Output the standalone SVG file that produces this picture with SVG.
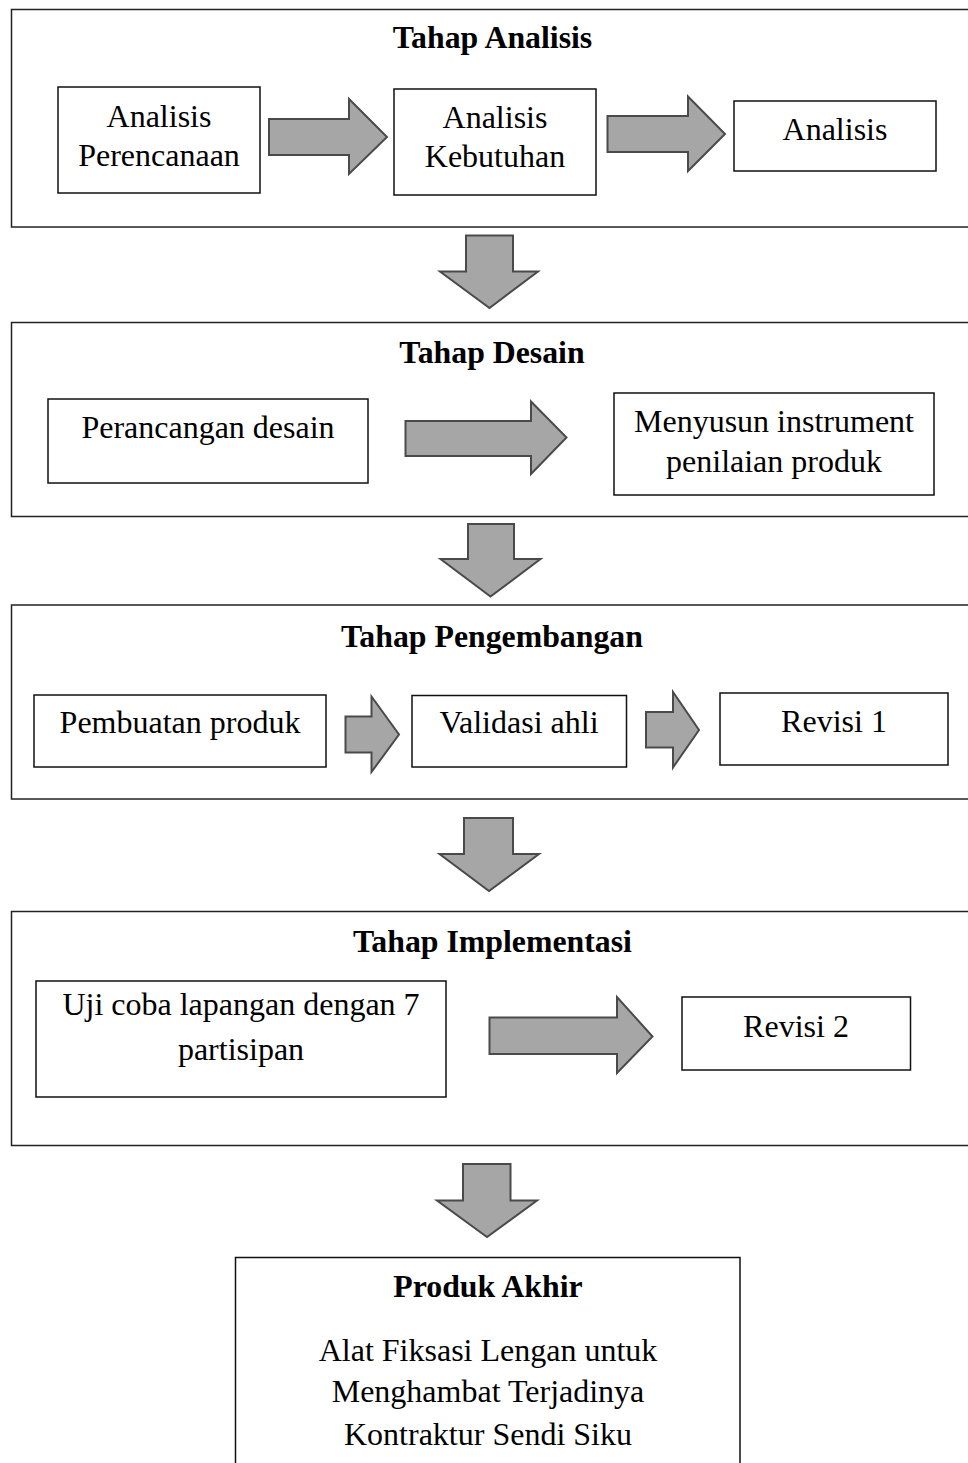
<svg xmlns="http://www.w3.org/2000/svg" width="968" height="1463" viewBox="0 0 968 1463">
<style>
.frame{fill:#fff;stroke:#222;stroke-width:1.5}
.box{fill:#fff;stroke:#111;stroke-width:1.5}
.arr{fill:#a6a6a6;stroke:#4a4a4a;stroke-width:2;stroke-linejoin:miter}
.t{font-family:"Liberation Serif","Times New Roman",serif;font-size:32px;fill:#000;text-anchor:middle}
.h{font-family:"Liberation Serif","Times New Roman",serif;font-size:31.8px;font-weight:bold;fill:#000;text-anchor:middle}
</style>
<rect width="968" height="1463" fill="#fff"/>

<g id="stage-analisis">
<rect class="frame" x="11.5" y="9.5" width="970" height="217.5"/>
<text class="h" x="492.5" y="48">Tahap Analisis</text>
</g>
<g id="node-analisis-perencanaan">
<rect class="box" x="58" y="87" width="202" height="106"/>
<text class="t" x="159" y="127">Analisis</text>
<text class="t" x="159" y="166">Perencanaan</text>
</g>
<g id="node-analisis-kebutuhan">
<rect class="box" x="394" y="89" width="202" height="106"/>
<text class="t" x="495" y="128">Analisis</text>
<text class="t" x="495" y="167">Kebutuhan</text>
</g>
<g id="node-analisis">
<rect class="box" x="734" y="101" width="202" height="70"/>
<text class="t" x="835" y="140">Analisis</text>
</g>

<g id="stage-desain">
<rect class="frame" x="11.5" y="322.5" width="970" height="194"/>
<text class="h" x="492" y="363">Tahap Desain</text>
</g>
<g id="node-perancangan">
<rect class="box" x="48" y="399" width="320" height="84"/>
<text class="t" x="208" y="438">Perancangan desain</text>
</g>
<g id="node-menyusun">
<rect class="box" x="614" y="393" width="320" height="102"/>
<text class="t" x="774" y="432">Menyusun instrument</text>
<text class="t" x="774" y="472">penilaian produk</text>
</g>

<g id="stage-pengembangan">
<rect class="frame" x="11.5" y="605" width="970" height="194"/>
<text class="h" x="492" y="647">Tahap Pengembangan</text>
</g>
<g id="node-pembuatan">
<rect class="box" x="34" y="695" width="292" height="72"/>
<text class="t" x="180" y="733">Pembuatan produk</text>
</g>
<g id="node-validasi">
<rect class="box" x="412" y="695.5" width="214.5" height="71.5"/>
<text class="t" x="519" y="733">Validasi ahli</text>
</g>
<g id="node-revisi1">
<rect class="box" x="720" y="693" width="228" height="72"/>
<text class="t" x="834" y="732">Revisi 1</text>
</g>

<g id="stage-implementasi">
<rect class="frame" x="11.5" y="911.5" width="970" height="234"/>
<text class="h" x="492.5" y="951.5">Tahap Implementasi</text>
</g>
<g id="node-uji">
<rect class="box" x="36" y="981" width="410" height="116"/>
<text class="t" x="241" y="1015">Uji coba lapangan dengan 7</text>
<text class="t" x="241" y="1060">partisipan</text>
</g>
<g id="node-revisi2">
<rect class="box" x="682" y="997" width="228.5" height="73"/>
<text class="t" x="796" y="1036.5">Revisi 2</text>
</g>

<g id="node-produk-akhir">
<rect class="box" x="235.5" y="1257.5" width="504.5" height="220"/>
<text class="h" x="488" y="1297">Produk Akhir</text>
<text class="t" x="488" y="1361">Alat Fiksasi Lengan untuk</text>
<text class="t" x="488" y="1402">Menghambat Terjadinya</text>
<text class="t" x="488" y="1445">Kontraktur Sendi Siku</text>
</g>

<g id="connectors">
<polygon class="arr" points="269,119 349,119 349,99 387,137 349,174 349,155 269,155"/>
<polygon class="arr" points="607.5,116 688,116 688,96.5 725,134 688,171 688,152 607.5,152"/>
<polygon class="arr" points="466,235.5 513,235.5 513,271.5 538,271.5 489.5,308 440,271.5 466,271.5"/>
<polygon class="arr" points="405.5,421 531,421 531,401.5 566.5,437.5 531,474 531,456 405.5,456"/>
<polygon class="arr" points="468,524 514,524 514,559 540.5,559 490.5,596.5 440.5,559 468,559"/>
<polygon class="arr" points="345.5,716.5 371.5,716.5 371.5,696.5 399,734.5 371.5,772 371.5,752.5 345.5,752.5"/>
<polygon class="arr" points="646,712 673,712 673,692 699,730 673,767.5 673,747.5 646,747.5"/>
<polygon class="arr" points="464,818 513,818 513,854 539,854 489,891 439.5,854 464,854"/>
<polygon class="arr" points="489.5,1017.5 617,1017.5 617,997 652.5,1036.5 617,1073 617,1054 489.5,1054"/>
<polygon class="arr" points="463,1164 510.5,1164 510.5,1200.5 537,1200.5 487,1237 437,1200.5 463,1200.5"/>
</g>
</svg>
